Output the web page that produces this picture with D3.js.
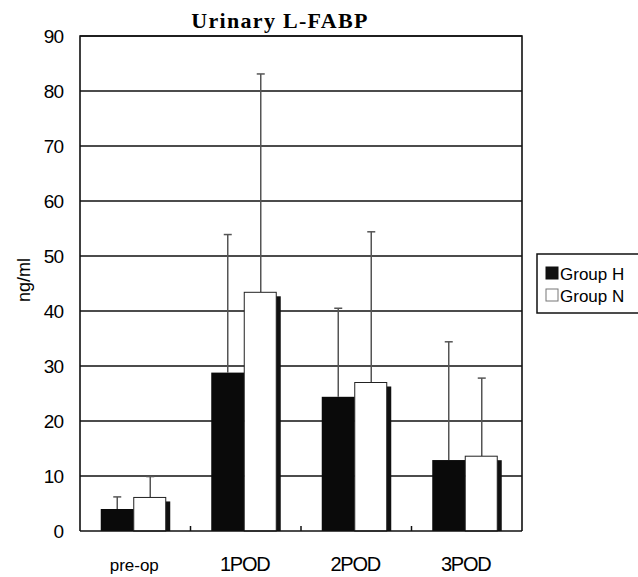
<!DOCTYPE html>
<html>
<head>
<meta charset="utf-8">
<script src="https://cdn.jsdelivr.net/npm/d3@7"></script>
<style>
  body { margin: 0; background: #fff; }
  text { font-family: "Liberation Sans", Arial, sans-serif; }
</style>
</head>
<body>
<svg id="chart"></svg>
<script>
// values
const categories = ['pre-op', '1POD', '2POD', '3POD'];
const groups = ['Group H', 'Group N'];
const meanH = [4.0, 28.8, 24.4, 12.9];
const sdTopH = [6.2, 53.9, 40.5, 34.4];
const meanN = [6.1, 43.4, 27.0, 13.6];
const sdTopN = [9.9, 83.1, 54.4, 27.8];
const yTicks = [0, 10, 20, 30, 40, 50, 60, 70, 80, 90];

const width = 638, height = 577;
const plotLeft = 80, plotRight = 522, plotTop = 36, plotBottom = 531;

const svg = d3.select('#chart')
    .attr('width', width)
    .attr('height', height);

const x = d3.scaleBand()
    .domain(categories)
    .range([plotLeft, plotRight]);

const y = d3.scaleLinear()
    .domain([0, 90])
    .range([plotBottom, plotTop]);

const barW = 33;

// title
svg.append('text')
    .attr('x', 280)
    .attr('y', 28)
    .attr('text-anchor', 'middle')
    .style('font-family', '"Liberation Serif", "DejaVu Serif", serif')
    .style('font-weight', 'bold')
    .style('font-size', '22px')
    .style('letter-spacing', '1.3px')
    .text('Urinary L-FABP');

// gridlines
svg.append('g')
    .selectAll('line')
    .data(yTicks.slice(1))
    .enter()
    .append('line')
    .attr('x1', plotLeft)
    .attr('x2', plotRight)
    .attr('y1', d => y(d))
    .attr('y2', d => y(d))
    .attr('stroke', '#111')
    .attr('stroke-width', 1.6);

// frame
svg.append('path')
    .attr('d', `M${plotLeft},${plotBottom}V${plotTop}H${plotRight}V${plotBottom}`)
    .attr('fill', 'none')
    .attr('stroke', '#111')
    .attr('stroke-width', 1.6);

// y tick labels
svg.append('g')
    .selectAll('text')
    .data(yTicks)
    .enter()
    .append('text')
    .attr('x', 63)
    .attr('y', d => y(d) + 7)
    .attr('text-anchor', 'end')
    .style('font-size', '19px')
    .style('letter-spacing', '-1px')
    .text(d => d);

// y label
svg.append('text')
    .attr('transform', 'translate(30,280) rotate(-90)')
    .attr('text-anchor', 'middle')
    .style('font-size', '18px')
    .text('ng/ml');

const rows = categories.map((c, i) => ({
    cat: c, h: meanH[i], hTop: sdTopH[i], n: meanN[i], nTop: sdTopN[i]
}));

// error bars (upper only)
const errs = [];
rows.forEach(r => {
    const cx = x(r.cat) + x.bandwidth() / 2 - 1.5;
    errs.push({ x: cx - barW / 2, v: r.h, top: r.hTop });
    errs.push({ x: cx + barW / 2, v: r.n, top: r.nTop });
});
const eg = svg.append('g');
eg.selectAll('line.stem')
    .data(errs)
    .enter()
    .append('line')
    .attr('x1', d => d.x).attr('x2', d => d.x)
    .attr('y1', d => y(d.v)).attr('y2', d => y(d.top))
    .attr('stroke', '#555')
    .attr('stroke-width', 1.5);
eg.selectAll('line.cap')
    .data(errs)
    .enter()
    .append('line')
    .attr('x1', d => d.x - 4).attr('x2', d => d.x + 4)
    .attr('y1', d => y(d.top)).attr('y2', d => y(d.top))
    .attr('stroke', '#555')
    .attr('stroke-width', 1.5);

// bars with a small drop shadow
const bars = svg.append('g')
    .selectAll('g')
    .data(rows)
    .enter()
    .append('g')
    .attr('transform', d => `translate(${x(d.cat) + x.bandwidth() / 2 - 1.5},0)`);

bars.append('rect')
    .attr('x', 3.5)
    .attr('y', d => y(d.n) + 4)
    .attr('width', barW)
    .attr('height', d => plotBottom - y(d.n) - 4)
    .attr('fill', '#111');

bars.append('rect')
    .attr('x', -barW)
    .attr('y', d => y(d.h))
    .attr('width', barW)
    .attr('height', d => plotBottom - y(d.h))
    .attr('fill', '#0a0a0a');

bars.append('rect')
    .attr('x', 0)
    .attr('y', d => y(d.n))
    .attr('width', barW - 1)
    .attr('height', d => plotBottom - y(d.n))
    .attr('fill', '#fff')
    .attr('stroke', '#222')
    .attr('stroke-width', 1);

// x axis line and small category ticks
svg.append('line')
    .attr('x1', plotLeft).attr('x2', plotRight)
    .attr('y1', plotBottom).attr('y2', plotBottom)
    .attr('stroke', '#111')
    .attr('stroke-width', 1.6);

svg.append('g')
    .selectAll('line')
    .data(categories.slice(1))
    .enter()
    .append('line')
    .attr('x1', d => x(d)).attr('x2', d => x(d))
    .attr('y1', plotBottom).attr('y2', plotBottom - 5)
    .attr('stroke', '#111')
    .attr('stroke-width', 1.5);

svg.append('g')
    .selectAll('text')
    .data(categories)
    .enter()
    .append('text')
    .attr('x', d => x(d) + x.bandwidth() / 2 - 1)
    .attr('y', 571)
    .attr('text-anchor', 'middle')
    .style('font-size', d => d === 'pre-op' ? '17px' : '20px')
    .style('letter-spacing', d => d === 'pre-op' ? '0px' : '-1.2px')
    .text(d => d);

// legend
const lg = svg.append('g').attr('transform', 'translate(537,254)');
lg.append('rect')
    .attr('width', 110).attr('height', 59)
    .attr('fill', '#fff')
    .attr('stroke', '#111')
    .attr('stroke-width', 1.5);
const items = lg.selectAll('g')
    .data(groups)
    .enter()
    .append('g')
    .attr('transform', (d, i) => `translate(9,${13 + i * 22})`);
items.append('rect')
    .attr('width', 12).attr('height', 12)
    .attr('fill', (d, i) => i === 0 ? '#111' : '#fff')
    .attr('stroke', (d, i) => i === 0 ? '#111' : '#777')
    .attr('stroke-width', 1);
items.append('text')
    .attr('x', 14)
    .attr('y', 13)
    .style('font-size', '17px')
    .text(d => d);
</script>
</body>
</html>
